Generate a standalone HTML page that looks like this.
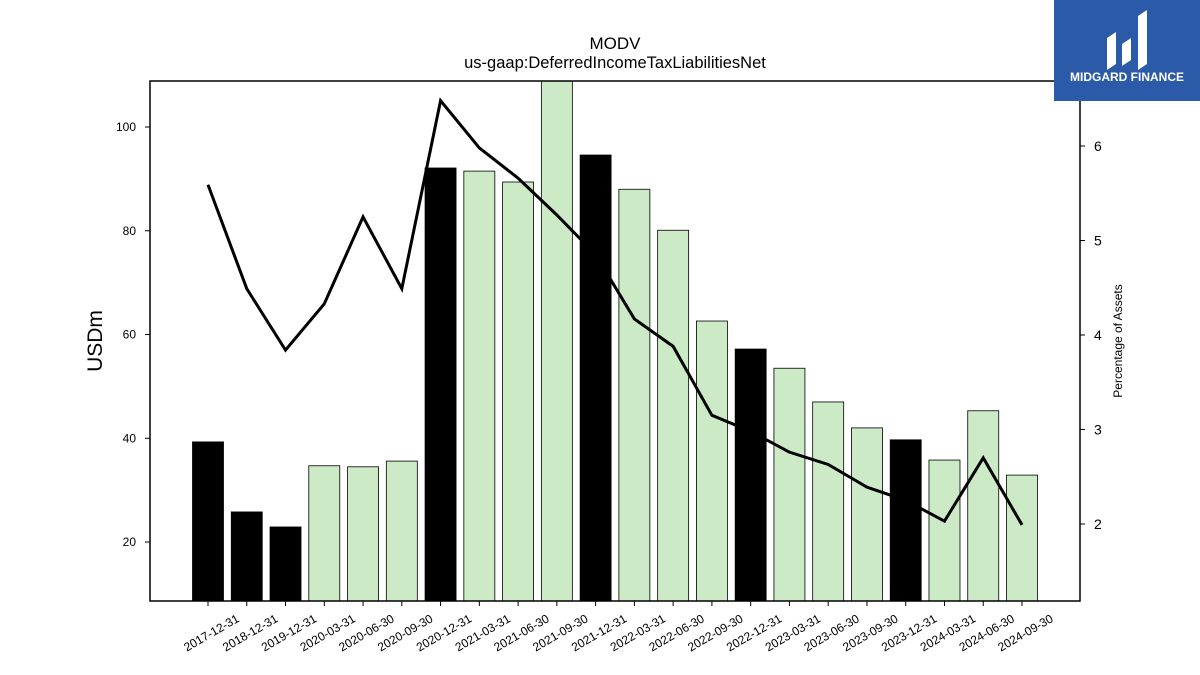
<!DOCTYPE html>
<html><head><meta charset="utf-8"><style>
body{margin:0;background:#fff;}
svg{display:block;font-family:"Liberation Sans","DejaVu Sans",sans-serif;}
</style></head><body>
<svg id="chart" width="1200" height="675">
<text x="615" y="49" text-anchor="middle" font-size="17">MODV</text>
<text x="615" y="68" text-anchor="middle" font-size="16.5">us-gaap:DeferredIncomeTaxLiabilitiesNet</text>
<g id="bars"></g><g id="line"></g><g id="axes"></g>
<rect x="150" y="81" width="930" height="520" fill="none" stroke="#000" stroke-width="1.5"/>
<text transform="translate(102,341) rotate(-90)" text-anchor="middle" font-size="21">USDm</text>
<text transform="translate(1122,341) rotate(-90)" text-anchor="middle" font-size="12">Percentage of Assets</text>
<g>
<rect x="1054" y="0" width="146" height="101" fill="#2b5aa8"/>
<path d="M1107 70 L1107 38 L1116 32 L1116 64 Z M1122 66 L1122 44 L1131 38 L1131 60 Z M1138 70 L1138 16 L1147 10 L1147 64 Z" fill="#fff"/>
<text x="1127" y="81" text-anchor="middle" font-size="12" font-weight="bold" fill="#fff">MIDGARD FINANCE</text>
</g>
</svg>
<script>
const categories=["2017-12-31","2018-12-31","2019-12-31","2020-03-31","2020-06-30","2020-09-30","2020-12-31","2021-03-31","2021-06-30","2021-09-30","2021-12-31","2022-03-31","2022-06-30","2022-09-30","2022-12-31","2023-03-31","2023-06-30","2023-09-30","2023-12-31","2024-03-31","2024-06-30","2024-09-30"];
const usdValues=[39.3,25.8,22.9,34.7,34.5,35.6,92.1,91.5,89.4,112,94.6,88.0,80.1,62.6,57.2,53.5,47.0,42.0,39.7,35.8,45.3,32.9];
const pctValues=[5.59,4.49,3.84,4.33,5.25,4.49,6.48,5.98,5.66,5.27,4.85,4.17,3.88,3.15,2.98,2.76,2.63,2.39,2.25,2.03,2.70,1.99];
const annual=[1,1,1,0,0,0,1,0,0,0,1,0,0,0,1,0,0,0,1,0,0,0];
const leftTicks=[20,40,60,80,100];
const rightTicks=[2,3,4,5,6];
const NS="http://www.w3.org/2000/svg";
const plotTop=81,plotBot=601,plotLeft=150,plotRight=1080;
const yMin=8.63,yMax=108.87,rMin=1.185,rMax=6.688;
const y=v=>plotBot-(v-yMin)/(yMax-yMin)*(plotBot-plotTop);
const yr=v=>plotBot-(v-rMin)/(rMax-rMin)*(plotBot-plotTop);
const x=i=>208+i*(1022-208)/(categories.length-1);
function mk(t,a,p){const e=document.createElementNS(NS,t);for(const k in a)e.setAttribute(k,a[k]);p.appendChild(e);return e;}
const gb=document.getElementById('bars'),gl=document.getElementById('line'),ga=document.getElementById('axes');
categories.forEach((c,i)=>{
 const yt=Math.max(y(usdValues[i]),plotTop);
 const r=mk('rect',{x:x(i)-15.5,y:yt,width:31,height:plotBot-yt,fill:annual[i]?'#000':'#cdeac7',stroke:'#000','stroke-width':0.8},gb);
 
 
 mk('line',{x1:x(i),x2:x(i),y1:plotBot,y2:plotBot+5,stroke:'#000'},ga);
 const t=mk('text',{transform:`translate(${x(i)+32},${plotBot+20}) rotate(-30)`,'text-anchor':'end','font-size':12},ga);
 t.textContent=c;
 
 
});
const pl=mk('polyline',{points:pctValues.map((v,i)=>x(i)+','+yr(v)).join(' '),fill:'none',stroke:'#000','stroke-width':3},gl);


leftTicks.forEach(v=>{
 mk('line',{x1:plotLeft-5,x2:plotLeft,y1:y(v),y2:y(v),stroke:'#000'},ga);
 const t=mk('text',{x:plotLeft-14,y:y(v)+4,'text-anchor':'end','font-size':12},ga);
 t.textContent=v;
 
 
});
rightTicks.forEach(v=>{
 mk('line',{x1:plotRight,x2:plotRight+5,y1:yr(v),y2:yr(v),stroke:'#000'},ga);
 const t=mk('text',{x:plotRight+14,y:yr(v)+5,'font-size':14},ga);
 t.textContent=v;
 
 
});
</script>
</body></html>
